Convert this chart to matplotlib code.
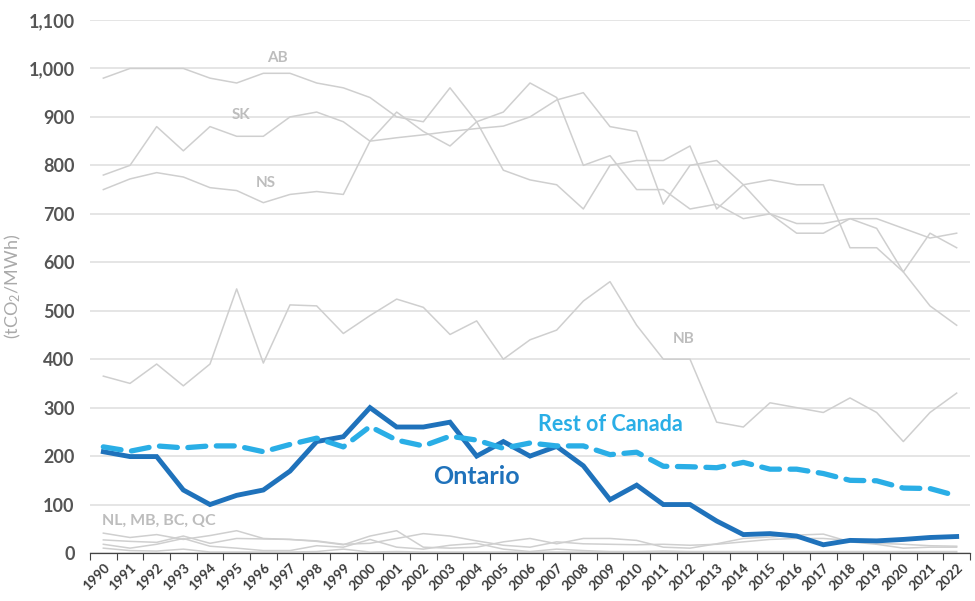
import matplotlib
matplotlib.use("Agg")
import matplotlib.pyplot as plt
import numpy as np

plt.rcParams['font.family'] = ['Lato', 'DejaVu Sans']
plt.rcParams['mathtext.default'] = 'regular'

# Years
anos = [str(a) for a in range(1990, 2023)]

# Provinces (grey lines)
ab = [980, 1000, 1000, 1000, 980, 970, 990, 990, 970, 960, 940, 900, 890, 960, 890,
      790, 770, 760, 710, 800, 810, 810, 840, 710, 760, 770, 760, 760, 630, 630, 580, 510, 470]
sk = [780, 800, 880, 830, 880, 860, 860, 900, 910, 890, 850, 910, 870, 840, 890,
      910, 970, 940, 800, 820, 750, 750, 710, 720, 690, 700, 660, 660, 690, 670, 580, 660, 630]
ns = [750, 772, 785, 776, 754, 748, 723, 740, 746, 740, 850, 857, 863, 870, 876,
      881, 900, 935, 950, 880, 870, 720, 800, 810, 760, 700, 680, 680, 690, 690, 670, 650, 660]
nb = [365, 350, 390, 345, 390, 545, 392, 512, 510, 453, 490, 524, 507, 451, 479,
      400, 440, 460, 520, 560, 470, 400, 400, 270, 260, 310, 300, 290, 320, 290, 230, 290, 330]
nl = [41, 32, 38, 28, 36, 46, 30, 28, 24, 17, 35, 46, 12, 10, 12, 23, 30, 19, 30, 30, 26, 12, 10,
      19, 30, 33, 37, 39, 23, 18, 10, 12, 12]
bc = [27, 24, 22, 35, 20, 30, 29, 28, 25, 18, 20, 30, 40, 35, 25, 16, 12, 23, 19, 18, 17, 18, 16,
      18, 23, 28, 30, 30, 26, 20, 18, 15, 14]
mb = [18, 10, 18, 30, 14, 10, 5, 5, 15, 12, 28, 12, 8, 16, 20, 8, 3, 8, 5, 3, 3, 4, 3,
      3, 3, 3, 3, 3, 3, 3, 3, 3, 3]
qc = [10, 5, 4, 8, 2, 2, 2, 2, 3, 8, 2, 3, 2, 2, 2, 2, 2, 2, 2, 2, 2, 2, 1,
      1, 1, 1, 1, 1, 1, 1, 1, 1, 1]

# Ontario vs rest of Canada
ontario = [209, 199, 199, 130, 100, 119, 130, 169, 230, 240, 300, 260, 260, 270, 200,
           230, 200, 220, 180, 110, 140, 100, 100, 66, 38, 40, 35, 17, 26, 25, 28, 32, 34]
resto_canada = [219, 210, 221, 217, 221, 221, 209, 224, 237, 219, 261, 233, 221, 241, 233,
                216, 227, 221, 221, 203, 208, 179, 178, 176, 187, 173, 173, 164, 150, 149, 134, 133, 118]

x = np.arange(len(anos))
cinza = '#cfcfcf'
texto_cinza = '#bdbdbd'

fig = plt.figure(figsize=(9.75, 6.01), dpi=100)
ax = fig.add_axes([90 / 975, 48 / 601, 880 / 975, 533 / 601])

for serie in [ab, sk, ns, nb, nl, bc, mb, qc]:
    ax.plot(x, serie, color=cinza, lw=1.1, zorder=2)

ax.plot(x, ontario, color='#1f72bb', lw=3.5, solid_joinstyle='miter', zorder=3)
ax.plot(x, resto_canada, color='#2aaee6', lw=3.8, dashes=(3.4, 2.0),
        dash_capstyle='round', zorder=4)

# Labels
ax.text(6.53, 1022, 'AB', color=texto_cinza, fontsize=11, fontweight='bold', ha='center', va='center')
ax.text(5.18, 904, 'SK', color=texto_cinza, fontsize=11, fontweight='bold', ha='center', va='center')
ax.text(6.08, 764, 'NS', color=texto_cinza, fontsize=11, fontweight='bold', ha='center', va='center')
ax.text(21.76, 442, 'NB', color=texto_cinza, fontsize=11, fontweight='bold', ha='center', va='center')
ax.text(-0.05, 66, 'NL, MB, BC, QC', color=texto_cinza, fontsize=11.5, fontweight='bold', ha='left', va='center')
ax.text(14.0, 157, 'Ontario', color='#1f72bb', fontsize=18, fontweight='bold', ha='center', va='center')
ax.text(19.0, 266, 'Rest of Canada', color='#2aaee6', fontsize=15.5, fontweight='bold', ha='center', va='center')

# Axes
ax.set_xlim(-0.5, len(anos) - 0.5)
ax.set_ylim(0, 1100)
ax.set_yticks(range(0, 1101, 100))
ax.set_yticklabels([f'{v:,}' for v in range(0, 1101, 100)], fontsize=13, color='#555555',
                   fontweight='bold')
ax.tick_params(axis='y', length=0, pad=11)
ax.grid(axis='y', color='#dedede', lw=1.1, zorder=0)
ax.set_axisbelow(True)

ax.set_xticks(x)
ax.set_xticklabels(anos, rotation=45, ha='right', rotation_mode='anchor',
                   fontsize=9.8, fontweight='bold', color='#3a3a3a')
ax.tick_params(axis='x', which='major', length=0, pad=6)
ax.set_xticks(np.arange(-0.5, len(anos), 1), minor=True)
ax.tick_params(axis='x', which='minor', length=5, color='#444444', width=0.8)

for lado in ['top', 'right', 'left']:
    ax.spines[lado].set_visible(False)
ax.spines['bottom'].set_color('#444444')
ax.spines['bottom'].set_linewidth(0.9)

ax.set_ylabel('(tCO$_2$/MWh)', color='#aaaaaa', fontsize=13, labelpad=4)

plt.savefig('out.png', dpi=100)
plt.close()
